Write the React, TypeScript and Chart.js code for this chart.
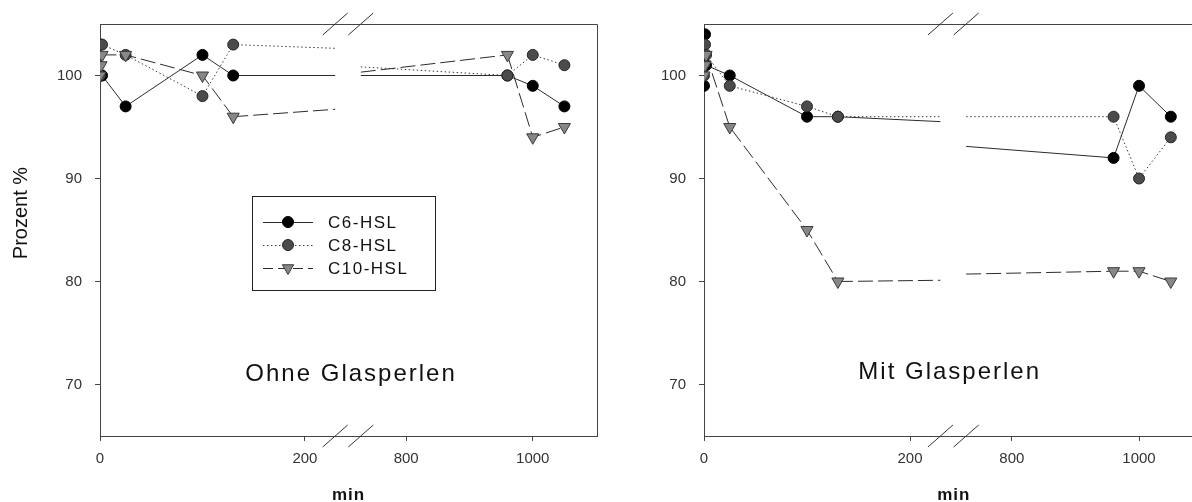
import React, { useEffect, useRef } from 'react';
import { Chart, registerables } from 'chart.js';

Chart.register(...registerables);

// ---------------- data ----------------
const times = [0, 1, 2, 25, 100, 130, 960, 1000, 1050];
const ohneC6 = [100, 100, 100, 97, 102, 100, 100, 99, 97];
const ohneC8 = [100, 103, 103, 102, 98, 103, 100, 102, 101];
const ohneC10 = [100, 101, 102, 102, 100, 96, 102, 94, 95];
const mitC6 = [99, 104, 101, 100, 96, 96, 92, 99, 96];
const mitC8 = [100, 103, 102, 99, 97, 96, 96, 90, 94];
const mitC10 = [100, 101, 102, 95, 85, 80, 81, 81, 80];
const seriesNames = ['C6-HSL', 'C8-HSL', 'C10-HSL'];
const xTicks = [0, 200, 800, 1000];
const yTicks = [70, 80, 90, 100];
const yTitle = 'Prozent %';
const xTitle = 'min';

// ---------------- broken axis ----------------
const B = 242; // end of first segment (min) == break centre in axis units
const X2 = 708; // start of second segment (min)
const K = 0.6175; // compression of second segment
const G = 12.5; // half gap (axis units)
const UMAX = 485;
const toU = (x: number) => (x <= B ? x : B + (x - X2) * K);

const FONT = "'Liberation Sans', Arial, sans-serif";

const styles = [
  { color: '#2b2b2b', dash: [] as number[], point: 'circle', radius: 5.5, bg: '#000000', bc: '#000000' },
  { color: '#3a3a3a', dash: [1.5, 2.5], point: 'circle', radius: 5.5, bg: '#4b4b4b', bc: '#262626' },
  { color: '#2b2b2b', dash: [15, 5], point: 'triangle', radius: 7, bg: '#878787', bc: '#3a3a3a' },
];

type PanelDef = {
  series: number[][];
  label: string;
  labelU: number;
  labelV: number;
  showYTitle: boolean;
  showLegend: boolean;
  yWidth: number;
  padRight: number;
  canvasWidth: number;
  left: number;
};

function drawMarker(ctx: CanvasRenderingContext2D, s: number, x: number, y: number, r: number) {
  const st = styles[s];
  ctx.save();
  ctx.setLineDash([]);
  ctx.fillStyle = st.bg;
  ctx.strokeStyle = st.bc;
  ctx.lineWidth = 1;
  ctx.beginPath();
  if (st.point === 'circle') {
    ctx.arc(x, y, r, 0, Math.PI * 2);
  } else {
    const h = Math.sqrt(3) / 2 * r;
    ctx.moveTo(x - h, y - r / 2);
    ctx.lineTo(x + h, y - r / 2);
    ctx.lineTo(x, y + r);
    ctx.closePath();
  }
  ctx.fill();
  ctx.stroke();
  ctx.restore();
}

function makeFramePlugin(p: PanelDef) {
  return {
    id: 'frame',
    beforeDatasetsDraw(chart: any) {
      const { ctx, chartArea, scales } = chart;
      const xs = scales.x;
      const ys = scales.y;
      ctx.save();
      ctx.beginPath();
      ctx.rect(chartArea.left, chartArea.top, chartArea.right - chartArea.left, chartArea.bottom - chartArea.top);
      ctx.clip();
      p.series.forEach((vals, di) => {
        const st = styles[di];
        for (let i = 0; i < times.length - 1; i++) {
          const x0 = times[i];
          const x1 = times[i + 1];
          if (!(x0 < B && x1 > X2)) continue;
          const y0 = vals[i];
          const y1 = vals[i + 1];
          const at = (xr: number) => y0 + (y1 - y0) * (xr - x0) / (x1 - x0);
          const xl = B - G;
          const xr = X2 + G / K;
          ctx.strokeStyle = st.color;
          ctx.lineWidth = 1;
          ctx.setLineDash(st.dash);
          ctx.beginPath();
          ctx.moveTo(xs.getPixelForValue(toU(x0)), ys.getPixelForValue(y0));
          ctx.lineTo(xs.getPixelForValue(toU(xl)), ys.getPixelForValue(at(xl)));
          ctx.stroke();
          ctx.beginPath();
          ctx.moveTo(xs.getPixelForValue(toU(xr)), ys.getPixelForValue(at(xr)));
          ctx.lineTo(xs.getPixelForValue(toU(x1)), ys.getPixelForValue(y1));
          ctx.stroke();
        }
      });
      ctx.restore();
    },
    afterDraw(chart: any) {
      const { ctx, chartArea, scales } = chart;
      const xs = scales.x;
      const ys = scales.y;
      ctx.save();
      ctx.setLineDash([]);
      // top and right border
      ctx.strokeStyle = '#444';
      ctx.lineWidth = 1;
      ctx.beginPath();
      ctx.moveTo(chartArea.left, chartArea.top + 0.5);
      ctx.lineTo(chartArea.right + 0.5, chartArea.top + 0.5);
      ctx.lineTo(chartArea.right + 0.5, chartArea.bottom);
      ctx.stroke();
      // break slashes
      ctx.strokeStyle = '#333';
      [B - G, B + G].forEach((u) => {
        const cx = xs.getPixelForValue(u);
        [chartArea.top, chartArea.bottom].forEach((cy: number) => {
          ctx.beginPath();
          ctx.moveTo(cx - 12.5, cy + 11);
          ctx.lineTo(cx + 12.5, cy - 11);
          ctx.stroke();
        });
      });
      // panel label
      ctx.fillStyle = '#111';
      ctx.font = `24px ${FONT}`;
      (ctx as any).letterSpacing = '2px';
      ctx.textAlign = 'center';
      ctx.textBaseline = 'alphabetic';
      ctx.fillText(p.label, xs.getPixelForValue(p.labelU), ys.getPixelForValue(p.labelV));
      // x title
      (ctx as any).letterSpacing = '1px';
      ctx.font = `bold 17px ${FONT}`;
      ctx.fillText(xTitle, (chartArea.left + chartArea.right) / 2, 500);
      (ctx as any).letterSpacing = '0px';
      // y title
      if (p.showYTitle) {
        ctx.save();
        ctx.translate(21, 213);
        ctx.rotate(-Math.PI / 2);
        ctx.font = `20px ${FONT}`;
        ctx.textBaseline = 'middle';
        ctx.fillText(yTitle, 0, 0);
        ctx.restore();
      }
      // legend
      if (p.showLegend) {
        ctx.strokeStyle = '#222';
        ctx.lineWidth = 1;
        ctx.strokeRect(252.5, 196.5, 183, 94);
        const rows = [222, 245, 268];
        seriesNames.forEach((name, s) => {
          const st = styles[s];
          const ry = rows[s];
          ctx.strokeStyle = st.color;
          ctx.setLineDash(st.dash.length ? (s === 2 ? [10, 5] : st.dash) : []);
          ctx.beginPath();
          ctx.moveTo(263, ry + 0.5);
          ctx.lineTo(313, ry + 0.5);
          ctx.stroke();
          ctx.setLineDash([]);
          drawMarker(ctx, s, 288, ry, st.point === 'circle' ? 5.5 : 6.5);
          ctx.fillStyle = '#111';
          ctx.font = `17px ${FONT}`;
          (ctx as any).letterSpacing = '1.5px';
          ctx.textAlign = 'left';
          ctx.textBaseline = 'middle';
          ctx.fillText(name, 328, ry + 1);
          (ctx as any).letterSpacing = '0px';
        });
      }
      ctx.restore();
    },
  };
}

function makeConfig(p: PanelDef): any {
  const datasets = p.series.map((vals, s) => {
    const st = styles[s];
    return {
      label: seriesNames[s],
      data: times.map((t, i) => ({ x: toU(t), y: vals[i] })),
      borderColor: st.color,
      borderWidth: 1,
      borderDash: st.dash,
      pointStyle: st.point,
      pointRadius: st.radius,
      pointRotation: st.point === 'triangle' ? 180 : 0,
      pointBackgroundColor: st.bg,
      pointBorderColor: st.bc,
      pointBorderWidth: 1,
      fill: false,
      tension: 0,
      order: 3 - s,
      segment: {
        borderColor: (ctx: any) =>
          ctx.p0.parsed.x < B && ctx.p1.parsed.x > B ? 'rgba(0,0,0,0)' : undefined,
      },
    };
  });
  const tickFont = { family: FONT, size: 15 };
  return {
    type: 'line',
    data: { datasets },
    options: {
      responsive: false,
      animation: false,
      devicePixelRatio: 1,
      events: [],
      layout: { padding: { left: 0, top: 24, right: p.padRight, bottom: 0 } },
      plugins: { legend: { display: false }, tooltip: { enabled: false } },
      scales: {
        x: {
          type: 'linear',
          min: 0,
          max: UMAX,
          afterBuildTicks: (sc: any) => {
            sc.ticks = xTicks.map((v) => ({ value: toU(v) }));
          },
          afterFit: (sc: any) => {
            sc.height = 66;
          },
          ticks: {
            callback: (_v: any, i: number) => String(xTicks[i]),
            font: tickFont,
            color: '#333',
            padding: 9,
            maxRotation: 0,
            autoSkip: false,
          },
          grid: { drawOnChartArea: false, drawTicks: true, tickLength: 5, color: '#444', lineWidth: 1 },
          border: { display: true, color: '#444', width: 1 },
        },
        y: {
          type: 'linear',
          min: 65,
          max: 105,
          afterBuildTicks: (sc: any) => {
            sc.ticks = yTicks.map((v) => ({ value: v }));
          },
          afterFit: (sc: any) => {
            sc.width = p.yWidth;
          },
          ticks: { font: tickFont, color: '#333', padding: 13, autoSkip: false },
          grid: { drawOnChartArea: false, drawTicks: true, tickLength: 5, color: '#444', lineWidth: 1 },
          border: { display: true, color: '#444', width: 1 },
        },
      },
    },
    plugins: [makeFramePlugin(p)],
  };
}

const panels: PanelDef[] = [
  {
    series: [ohneC6, ohneC8, ohneC10],
    label: 'Ohne Glasperlen',
    labelU: 245,
    labelV: 70.3,
    showYTitle: true,
    showLegend: true,
    yWidth: 100,
    padRight: 15,
    canvasWidth: 612,
    left: 0,
  },
  {
    series: [mitC6, mitC8, mitC10],
    label: 'Mit Glasperlen',
    labelU: 238.5,
    labelV: 70.5,
    showYTitle: false,
    showLegend: false,
    yWidth: 104,
    padRight: 8.4,
    canvasWidth: 612,
    left: 600,
  },
];

function PanelChart({ p }: { p: PanelDef }) {
  const ref = useRef<HTMLCanvasElement>(null);
  useEffect(() => {
    const chart = new Chart(ref.current as HTMLCanvasElement, makeConfig(p));
    return () => chart.destroy();
  }, [p]);
  return (
    <canvas
      ref={ref}
      width={p.canvasWidth}
      height={502}
      style={{ position: 'absolute', left: p.left, top: 0, width: p.canvasWidth, height: 502 }}
    />
  );
}

export default function App() {
  return (
    <div
      style={{
        position: 'fixed',
        left: 0,
        top: 0,
        width: 1192,
        height: 502,
        overflow: 'hidden',
        background: '#fff',
      }}
    >
      {panels.map((p, i) => (
        <PanelChart key={i} p={p} />
      ))}
    </div>
  );
}
